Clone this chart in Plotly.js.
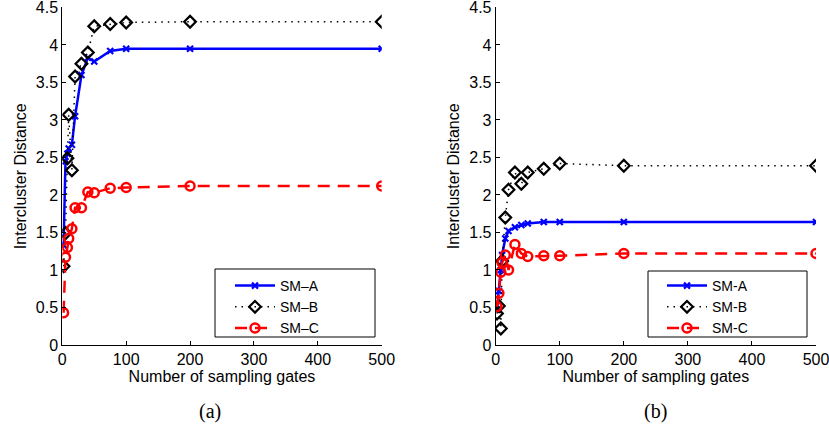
<!DOCTYPE html>
<html>
<head>
<meta charset="utf-8">
<script src="https://cdn.plot.ly/plotly-3.0.1.min.js"></script>
<style>html,body{margin:0;padding:0;background:#fff;}#chart{width:829px;height:430px;}</style>
</head>
<body>
<div id="chart"></div>
<script>
// Number of sampling gates (shared x values)
const xGates = [2, 5, 8, 10, 15, 20, 30, 40, 50, 75, 100, 200, 500];

// Panel (a)
const smA_a = [1.33, 2.45, 2.55, 2.62, 2.67, 3.05, 3.60, 3.83, 3.78, 3.92, 3.95, 3.95, 3.95];
const smB_a = [1.05, 1.49, 2.49, 3.07, 2.33, 3.58, 3.75, 3.90, 4.25, 4.28, 4.30, 4.31, 4.31];
const smC_a = [0.43, 1.17, 1.30, 1.42, 1.55, 1.83, 1.83, 2.04, 2.03, 2.09, 2.10, 2.12, 2.12];

// Panel (b)
const smA_b = [0.47, 0.72, 1.00, 1.20, 1.42, 1.52, 1.57, 1.60, 1.62, 1.64, 1.64, 1.64, 1.64];
const smB_b = [0.42, 0.52, 0.22, 1.12, 1.70, 2.07, 2.30, 2.15, 2.30, 2.35, 2.42, 2.39, 2.39];
const smC_b = [0.51, 0.69, 0.97, 1.10, 1.20, 1.00, 1.34, 1.22, 1.18, 1.19, 1.19, 1.22, 1.22];

const namesA = ['SM\u2013A', 'SM\u2013B', 'SM\u2013C'];
const namesB = ['SM-A', 'SM-B', 'SM-C'];
const xTicks = [0, 100, 200, 300, 400, 500];
const yTicks = [0, 0.5, 1, 1.5, 2, 2.5, 3, 3.5, 4, 4.5];

function styleA(){ return {line:{color:'#0000ff', width:2.5}, marker:{symbol:'x-thin-open', size:6, color:'#0000ff', line:{color:'#0000ff', width:2.2}}}; }
function styleB(){ return {line:{color:'#000000', width:1.5, dash:'1.5px,5px'}, marker:{symbol:'diamond-open', size:9, color:'#000000', line:{color:'#000000', width:2.2}}}; }
function styleC(){ return {line:{color:'#ff0000', width:2.5, dash:'12px,8px'}, marker:{symbol:'circle-open', size:9, color:'#ff0000', line:{color:'#ff0000', width:2.5}}}; }

function tr(y, name, st, xa, ya, lg){
  return Object.assign({type:'scatter', mode:'lines+markers', x:xGates, y:y, name:name, xaxis:xa, yaxis:ya, legend:lg}, st);
}

const data = [
  tr(smA_a, namesA[0], styleA(), 'x', 'y', 'legend'),
  tr(smB_a, namesA[1], styleB(), 'x', 'y', 'legend'),
  tr(smC_a, namesA[2], styleC(), 'x', 'y', 'legend'),
  tr(smA_b, namesB[0], styleA(), 'x2', 'y2', 'legend2'),
  tr(smB_b, namesB[1], styleB(), 'x2', 'y2', 'legend2'),
  tr(smC_b, namesB[2], styleC(), 'x2', 'y2', 'legend2')
];

const tickFont = {family:'Liberation Sans, Arial, sans-serif', size:16, color:'#000'};
function xax(domain, anchor){
  return {domain:domain, anchor:anchor, range:[0,500], tickvals:xTicks, ticks:'inside', ticklen:4, tickcolor:'#000',
    showline:true, linecolor:'#000', linewidth:1, showgrid:false, zeroline:false, tickfont:tickFont, ticklabeloverflow:'allow',
    title:{text:'Number of sampling gates', font:tickFont, standoff:3}};
}
function yax(anchor){
  return {domain:[0.1977, 0.9826], anchor:anchor, range:[0,4.5], tickvals:yTicks, ticks:'inside', ticklen:4, tickcolor:'#000',
    showline:true, linecolor:'#000', linewidth:1, showgrid:false, zeroline:false, tickfont:tickFont, ticklabeloverflow:'allow',
    title:{text:'Intercluster Distance', font:tickFont, standoff:5}};
}
const legFont = {family:'Liberation Sans, Arial, sans-serif', size:14, color:'#000'};
const W = 829, H = 430;
function px2x(p){ return p / W; }
function px2y(p){ return (H - p) / H; }

const layout = {
  width:W, height:H, margin:{l:0, r:0, t:0, b:0},
  paper_bgcolor:'#fff', plot_bgcolor:'#fff',
  xaxis: xax([0.07515, 0.46044], 'y'),
  yaxis: yax('x'),
  xaxis2: xax([0.59795, 0.98432], 'y2'),
  yaxis2: yax('x2'),
  legend:{x:px2x(230), y:px2y(270), xanchor:'left', yanchor:'top', borderwidth:0, bgcolor:'rgba(0,0,0,0)', font:legFont, itemwidth:40, tracegroupgap:0},
  legend2:{x:px2x(662), y:px2y(270), xanchor:'left', yanchor:'top', borderwidth:0, bgcolor:'rgba(0,0,0,0)', font:legFont, itemwidth:40, tracegroupgap:0},
  showlegend:true,
  shapes:[
    {type:'rect', xref:'paper', yref:'paper', x0:px2x(215), x1:px2x(375), y0:px2y(337), y1:px2y(269), line:{color:'#000', width:1}, fillcolor:'#fff', layer:'below'},
    {type:'rect', xref:'paper', yref:'paper', x0:px2x(648), x1:px2x(807), y0:px2y(337), y1:px2y(271), line:{color:'#000', width:1}, fillcolor:'#fff', layer:'below'}
  ],
  annotations:[
    {text:'(a)', xref:'paper', yref:'paper', x:px2x(210), y:px2y(411), xanchor:'center', yanchor:'middle', showarrow:false, font:{family:'Liberation Serif, Times New Roman, serif', size:20, color:'#000'}},
    {text:'(b)', xref:'paper', yref:'paper', x:px2x(655), y:px2y(411), xanchor:'center', yanchor:'middle', showarrow:false, font:{family:'Liberation Serif, Times New Roman, serif', size:20, color:'#000'}}
  ]
};

Plotly.newPlot('chart', data, layout, {displayModeBar:false, staticPlot:true});
</script>
</body>
</html>
